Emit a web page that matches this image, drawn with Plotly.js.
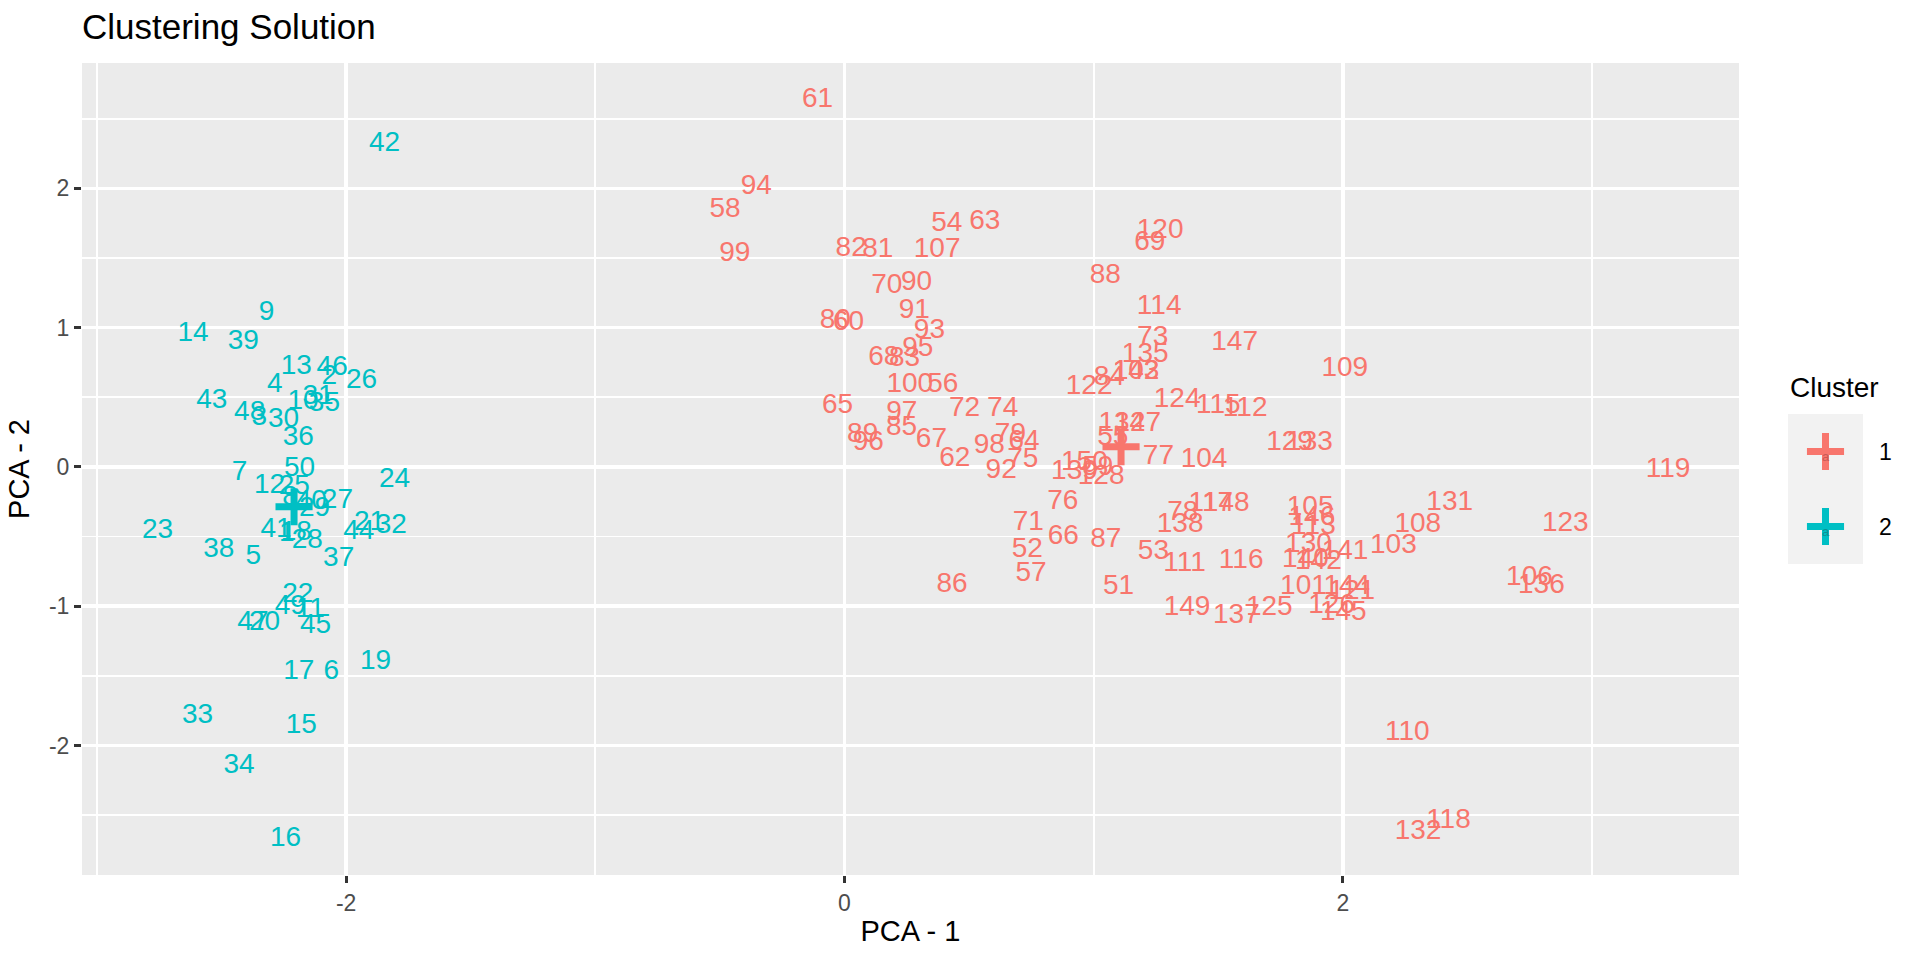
<!DOCTYPE html>
<html><head><meta charset="utf-8">
<script src="https://cdn.plot.ly/plotly-3.0.1.min.js"></script>
<style>html,body{margin:0;padding:0;background:#fff}</style>
</head><body><div id="chart" style="width:1920px;height:960px"></div>
<script>
// Cluster 2 observations (ids, PCA-1, PCA-2)
const ids2 = [1,2,3,4,5,6,7,8,9,10,11,12,13,14,15,16,17,18,19,20,21,22,23,24,25,26,27,28,29,30,31,32,33,34,35,36,37,38,39,40,41,42,43,44,45,46,47,48,49,50];
const pc1_c2 = [-2.238,-2.068,-2.348,-2.286,-2.373,-2.060,-2.428,-2.225,-2.319,-2.173,
  -2.144,-2.307,-2.200,-2.614,-2.180,-2.243,-2.190,-2.200,-1.882,-2.327,
  -1.906,-2.194,-2.757,-1.806,-2.208,-1.938,-2.035,-2.156,-2.127,-2.251,
  -2.113,-1.819,-2.596,-2.430,-2.087,-2.192,-2.030,-2.511,-2.413,-2.140,
  -2.281,-1.846,-2.539,-1.949,-2.123,-2.056,-2.374,-2.387,-2.224,-2.187];
const pc2_c2 = [-0.482,0.648,0.351,0.588,-0.644,-1.475,-0.046,-0.222,1.105,0.468,
  -1.027,-0.137,0.717,0.956,-1.858,-2.671,-1.475,-0.477,-1.401,-1.123,
  -0.405,-0.920,-0.460,-0.094,-0.142,0.617,-0.245,-0.530,-0.304,0.337,
  0.504,-0.424,-1.786,-2.145,0.452,0.205,-0.659,-0.597,0.899,-0.250,
  -0.451,2.318,0.473,-0.470,-1.140,0.710,-1.123,0.385,-1.003,-0.015];

// Cluster 1 observations
const ids1 = [51,52,53,54,55,56,57,58,59,60,61,62,63,64,65,66,67,68,69,70,71,72,73,74,75,76,77,78,79,80,
  81,82,83,84,85,86,87,88,89,90,91,92,93,94,95,96,97,98,99,100,
  101,102,103,104,105,106,107,108,109,110,111,112,113,114,115,116,117,118,119,120,
  121,122,123,124,125,126,127,128,129,130,131,132,133,134,135,136,137,138,139,140,
  141,142,143,144,145,146,147,148,149,150];
const pc1_c1 = [1.100,0.734,1.240,0.411,1.077,0.395,0.749,-0.479,1.017,0.016,
  -0.108,0.443,0.563,0.721,-0.028,0.878,0.349,0.158,1.225,0.170,
  0.738,0.482,1.237,0.635,0.716,0.876,1.260,1.358,0.666,-0.037,
  0.134,0.027,0.241,1.063,0.229,0.432,1.049,1.047,0.073,0.289,
  0.280,0.629,0.341,-0.354,0.294,0.096,0.230,0.581,-0.440,0.262,
  1.842,1.170,2.203,1.443,1.869,2.749,0.372,2.301,2.008,2.259,
  1.365,1.608,1.882,1.263,1.500,1.592,1.470,2.424,3.305,1.267,
  2.036,0.982,2.893,1.335,1.705,1.955,1.177,1.030,1.786,1.862,
  2.429,2.302,1.866,1.113,1.207,2.797,1.573,1.347,0.923,1.850,
  2.009,1.902,1.170,2.016,2.002,1.876,1.566,1.532,1.375,0.963];
const pc2_c1 = [-0.860,-0.597,-0.613,1.741,0.205,0.586,-0.771,1.842,-0.010,1.031,
  2.634,0.059,1.756,0.177,0.435,-0.505,0.191,0.784,1.605,1.301,
  -0.403,0.413,0.923,0.413,0.052,-0.252,0.073,-0.333,0.229,1.050,
  1.555,1.562,0.775,0.636,0.277,-0.850,-0.522,1.370,0.227,1.323,
  1.117,-0.027,0.978,2.007,0.846,0.169,0.387,0.148,1.531,0.586,
  -0.862,0.680,-0.566,0.052,-0.297,-0.800,1.555,-0.419,0.705,-1.913,
  -0.695,0.418,-0.429,1.150,0.435,-0.673,-0.266,-2.542,-0.022,1.696,
  -0.900,0.574,-0.412,0.478,-1.015,-0.996,0.308,-0.070,0.174,-0.563,
  -0.261,-2.619,0.174,0.308,0.803,-0.853,-1.068,-0.420,-0.039,-0.671,
  -0.613,-0.680,0.680,-0.862,-1.051,-0.369,0.889,-0.266,-1.011,0.026];

// Cluster centres
const clusters = ['1','2'];
const clusterColors = ['#F8766D','#00BFC4'];
const centerPC1 = [1.110,-2.209];
const centerPC2 = [0.145,-0.286];

// Axis ticks
const xTicks = [-2,0,2];
const xMinor = [-3,-1,1,3];
const yTicks = [-2,-1,0,1,2];
const yMinor = [-2.5,-1.5,-0.5,0.5,1.5,2.5];

const FONT = 'Liberation Sans, Arial, Helvetica, sans-serif';
const W = 1920, H = 960;
const mL = 82, mR = 20, mT = 63, mB = 85;
const plotW = W - mL - mR, plotH = H - mT - mB;
const px = v => (v - mL) / plotW;          // container px -> paper x
const py = v => (H - mB - v) / plotH;      // container px -> paper y

const crossMarker = {symbol:'cross-thin', size:26.5, line:{width:7, color:clusterColors}, color:clusterColors};

const traces = [
  {type:'scatter', mode:'text', x:pc1_c1, y:pc2_c1, text:ids1.map(String),
   textposition:'middle center', textfont:{family:FONT, size:28, color:clusterColors[0]},
   showlegend:false, hoverinfo:'skip', cliponaxis:false, xaxis:'x', yaxis:'y'},
  {type:'scatter', mode:'text', x:pc1_c2, y:pc2_c2, text:ids2.map(String),
   textposition:'middle center', textfont:{family:FONT, size:28, color:clusterColors[1]},
   showlegend:false, hoverinfo:'skip', cliponaxis:false, xaxis:'x', yaxis:'y'},
  {type:'scatter', mode:'markers', x:centerPC1, y:centerPC2, marker:crossMarker,
   showlegend:false, hoverinfo:'skip', xaxis:'x', yaxis:'y'},
  // legend keys
  {type:'scatter', mode:'markers', x:[0,0], y:[1,2], marker:crossMarker,
   showlegend:false, hoverinfo:'skip', xaxis:'x2', yaxis:'y2', cliponaxis:false},
  {type:'scatter', mode:'text', x:[0,0], y:[1.08,2.08], text:['a','a'],
   textposition:'middle center', textfont:{family:FONT, size:13, color:['#C85A55','#0E8F93']},
   showlegend:false, hoverinfo:'skip', xaxis:'x2', yaxis:'y2', cliponaxis:false}
];

const annotations = clusters.map((c,i) => ({
  xref:'x2 domain', yref:'y2', x:1.19, y:i+1, xanchor:'left', yanchor:'middle',
  text:c, showarrow:false, font:{family:FONT, size:23, color:'#000'}
}));
annotations.push({xref:'x2 domain', yref:'y2 domain', x:0, y:1.18, xanchor:'left', yanchor:'middle',
  text:'Cluster', showarrow:false, font:{family:FONT, size:28, color:'#000'}});

const layout = {
  width:W, height:H,
  margin:{l:mL, r:mR, t:mT, b:mB, pad:0},
  paper_bgcolor:'#FFFFFF', plot_bgcolor:'rgba(0,0,0,0)',
  font:{family:FONT, color:'#000'},
  showlegend:false,
  title:{text:'Clustering Solution', font:{family:FONT, size:35, color:'#000'},
         x:0, xref:'paper', xanchor:'left', y:1-27/H, yref:'container', yanchor:'middle'},
  xaxis:{domain:[0, px(1739)], range:[-3.06,3.59], anchor:'y',
    tickvals:xTicks, ticktext:xTicks.map(String),
    showgrid:true, gridcolor:'#FFFFFF', gridwidth:3.6, zeroline:false, showline:false,
    minor:{tickvals:xMinor, showgrid:true, gridcolor:'#FFFFFF', gridwidth:1.8, ticks:''},
    ticks:'outside', ticklen:7, tickwidth:3, tickcolor:'#333333',
    tickfont:{family:FONT, size:23, color:'#4D4D4D'},
    title:{text:'PCA - 1', font:{family:FONT, size:29, color:'#000'}, standoff:6}},
  yaxis:{domain:[0,1], range:[-2.93,2.90], anchor:'x',
    tickvals:yTicks, ticktext:yTicks.map(String),
    showgrid:true, gridcolor:'#FFFFFF', gridwidth:3.6, zeroline:false, showline:false,
    minor:{tickvals:yMinor, showgrid:true, gridcolor:'#FFFFFF', gridwidth:1.8, ticks:''},
    ticks:'outside', ticklen:7, tickwidth:3, tickcolor:'#333333',
    tickfont:{family:FONT, size:23, color:'#4D4D4D'},
    title:{text:'PCA - 2', font:{family:FONT, size:29, color:'#000'}, standoff:10}},
  xaxis2:{domain:[px(1788), px(1863)], range:[-1,1], anchor:'y2', visible:false, fixedrange:true},
  yaxis2:{domain:[py(564), py(414)], range:[2.5,0.5], anchor:'x2', visible:false, fixedrange:true},
  shapes:[
    {type:'rect', xref:'x domain', yref:'y domain', x0:0, x1:1, y0:0, y1:1,
     fillcolor:'#EBEBEB', line:{width:0}, layer:'below'},
    {type:'rect', xref:'x2 domain', yref:'y2 domain', x0:0, x1:1, y0:0, y1:1,
     fillcolor:'#F2F2F2', line:{width:0}, layer:'below'}
  ],
  annotations:annotations
};

Plotly.newPlot('chart', traces, layout, {displayModeBar:false, staticPlot:true});
</script>
</body></html>
